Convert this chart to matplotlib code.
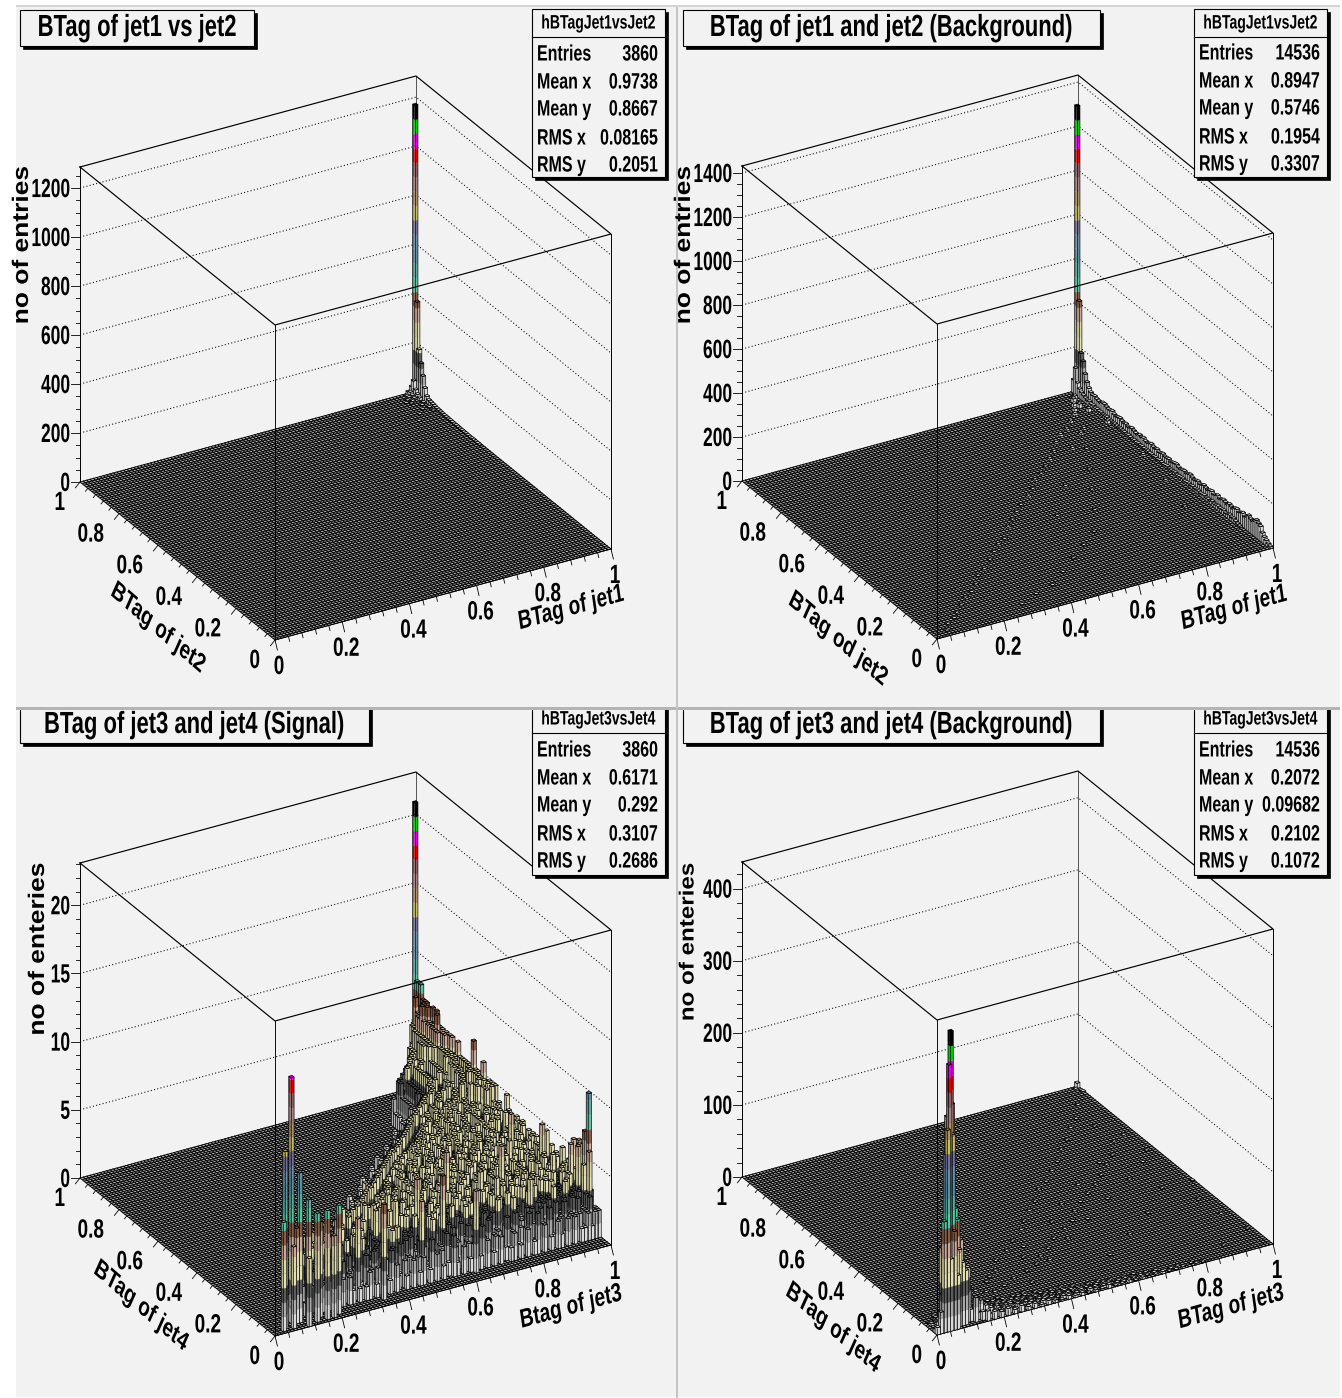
import numpy as np
import matplotlib
matplotlib.use("Agg")
import matplotlib.pyplot as plt
from matplotlib.collections import PolyCollection
from matplotlib.colors import to_rgba
from matplotlib.patches import Rectangle
from matplotlib.patheffects import AbstractPathEffect
from matplotlib.text import Text
from matplotlib.transforms import Affine2D, Bbox

W, H = 1342, 1398
N = 100
FONT = "Liberation Sans"

# ---------- data (bin index 0..99) ----------
TITLES = ["BTag of jet1 vs jet2", "BTag of jet1 and jet2 (Background)",
          "BTag of jet3 and jet4 (Signal)", "BTag of jet3 and jet4 (Background)"]
HIST_NAMES = ["hBTagJet1vsJet2", "hBTagJet1vsJet2", "hBTagJet3vsJet4", "hBTagJet3vsJet4"]
STAT_LABELS = ["Entries", "Mean x", "Mean y", "RMS x", "RMS y"]
STATS = [["3860", "0.9738", "0.8667", "0.08165", "0.2051"],
         ["14536", "0.8947", "0.5746", "0.1954", "0.3307"],
         ["3860", "0.6171", "0.292", "0.3107", "0.2686"],
         ["14536", "0.2072", "0.09682", "0.2102", "0.1072"]]
XLABELS = ["BTag of jet1", "BTag of jet1", "Btag of jet3", "BTag of jet3"]
YLABELS = ["BTag of jet2", "BTag od jet2", "BTag of jet4", "BTag of jet4"]
ZLABELS = ["no of entries", "no of entries", "no of enteries", "no of enteries"]
ZMAX = [1286, 1432, 23.1, 437]
ZMAJOR = [200, 200, 5, 100]
ZMINOR = [50, 50, 1, 20]
XY_TICKS = [0, 0.2, 0.4, 0.6, 0.8, 1]

# heights of the column ix=99 from iy=99 downward
P1_EDGE = [1175, 378, 190, 140, 95, 52, 25, 16, 14, 12, 10, 8, 8, 7, 6, 5, 5, 4, 4, 3, 3, 3, 3, 2, 2, 2, 2, 1, 1, 1, 2, 1, 1, 1]
P1_IX = [98, 98, 98, 98, 98, 97, 97, 97, 97, 96, 96, 96, 95, 95, 94, 98, 98, 98, 97, 96, 94, 92]
P1_IY = [99, 98, 97, 96, 95, 99, 98, 97, 96, 98, 97, 95, 96, 94, 95, 93, 90, 88, 92, 90, 88, 85]
P1_V = [30, 60, 30, 18, 10, 12, 18, 10, 6, 5, 6, 4, 3, 3, 2, 4, 3, 2, 3, 2, 2, 1]

P2_EDGE = [1300, 420, 190, 160, 110, 80, 60, 48, 42, 45, 40, 38, 36, 44, 45, 40, 36, 38, 42, 34, 30, 35, 38, 33,
           30, 34, 28, 30, 36, 32, 28, 26, 34, 30, 35, 28, 26, 30, 36, 30, 28, 33, 26, 30, 34, 28, 30, 32, 26, 30,
           34, 36, 30, 28, 33, 35, 30, 36, 40, 34, 30, 34, 38, 32, 36, 42, 38, 34, 40, 44, 36, 40, 46, 38, 42, 48,
           44, 40, 50, 46, 42, 52, 56, 48, 54, 60, 50, 56, 70, 62, 58, 66, 78, 70, 64, 42, 30, 22, 14, 8]
P2_EDGE2 = [60, 120, 60, 40, 30, 24, 20, 14, 18, 12, 14, 10, 12, 9, 11, 8, 10, 12, 8, 9, 7, 10, 8, 6, 9, 7, 8, 6,
            9, 7, 5, 8, 6, 7, 5, 8, 6, 7, 9, 6, 7, 5, 8, 6, 9, 7, 6, 8, 10, 7, 9, 8, 11, 7, 9, 10, 12, 8, 10, 11,
            9, 13, 10, 12, 14, 9, 12, 15, 11, 13, 10, 16, 12, 14, 17, 13, 15, 18, 12, 16, 20, 14, 17, 12, 8, 6]
P2_IX = [4, 6, 9, 11, 14, 17, 20, 23, 26, 29, 33, 36, 39, 42, 46, 49, 52, 55, 59, 62, 65, 68, 71, 74, 77, 80, 83, 86, 89,
         92, 93, 94, 95, 96, 90, 85, 80, 75, 70, 64, 58, 52, 46, 40, 34, 28, 60, 70, 82, 88, 91, 94, 96, 97, 96, 95]
P2_IY = [2, 5, 7, 9, 12, 15, 17, 20, 24, 26, 30, 33, 36, 38, 43, 46, 49, 52, 55, 58, 62, 64, 67, 70, 73, 77, 80, 82, 85,
         88, 90, 92, 94, 95, 80, 70, 60, 50, 40, 30, 25, 20, 15, 10, 8, 5, 42, 55, 72, 78, 30, 45, 60, 80, 88, 91]
P2_V = [4, 5, 4, 6, 5, 7, 5, 6, 4, 7, 5, 6, 7, 5, 8, 6, 7, 5, 9, 6, 8, 7, 6, 9, 7, 8, 10, 9, 11,
        12, 14, 18, 22, 24, 8, 6, 5, 6, 5, 4, 5, 4, 3, 4, 3, 3, 6, 7, 9, 10, 7, 8, 9, 14, 16, 20]

P4_IX = [5, 4, 6, 4, 3, 5, 3, 6, 7, 2, 5, 8, 7, 9, 10, 2, 4, 14, 6, 1, 8, 0, 11, 12, 7, 8, 9, 3, 1, 10, 99, 13, 15, 6, 0]
P4_IY = [2, 1, 3, 2, 0, 1, 1, 4, 2, 0, 0, 2, 1, 1, 2, 1, 0, 2, 0, 0, 3, 0, 3, 1, 3, 1, 3, 3, 1, 3, 99, 3, 1, 5, 1]
P4_V = [410, 367, 306, 293, 280, 269, 244, 185, 147, 154, 137, 117, 107, 76, 76, 51, 100, 26, 75, 30, 90, 10, 42, 34,
        160, 88, 58, 110, 14, 46, 7, 24, 20, 50, 6]
# low tail of P4: one row per iy, starting at ix=0, in counts (base 36)
P4_TAIL = [
    "0000000000 00000e0b08 0a06090507 0306040205 0304010302 0501020401 0300020301 0102000201",
    "0000000000 00g0c07090 5080403060 2050301040 2030104020 3010201002 0301020010 1020001",
    "0000000000 0h0a080c05 0604070305 0204030120 4010301020 1030010201 0102001",
    "0000000000 c090804060 3070203040 1030201030 2010201001 0201000100 1",
    "0030a00000 a060805030 6030402020 3010201010 2010100100 1",
    "0306050700 c060504050 3020301020 1020010100 1001",
    "0102040305 0504030401 0302010201 0010100100 1",
    "0001020302 0402030201 0020101020 1001",
    "0000102010 2030102010 0200100100 1",
    "0000100201 0020100100 1001",
]
# scattered small counts of P4 higher up
P4_IX2 = [20, 25, 30, 33, 38, 42, 47, 50, 54, 58, 62, 66, 70, 74, 78, 82, 86, 90, 94, 35, 45, 55, 65, 75, 85, 60, 70, 80, 90, 96, 98, 97, 96, 92, 88,
          24, 28, 32, 37, 41, 44, 48, 52, 57, 61, 64, 68, 72, 76, 80, 84, 88, 92, 27, 43, 63, 83, 22, 40, 56, 72, 93, 99, 99, 99, 98, 95]
P4_IY2 = [15, 18, 22, 27, 30, 34, 38, 42, 46, 50, 55, 58, 62, 66, 71, 75, 80, 84, 90, 12, 20, 28, 35, 42, 48, 15, 22, 30, 40, 20, 10, 60, 70, 78, 5,
          12, 14, 16, 18, 20, 23, 26, 30, 33, 36, 40, 44, 47, 50, 54, 58, 62, 68, 20, 30, 45, 60, 13, 25, 38, 52, 55, 96, 97, 40, 98, 30]
P4_V2 = [2, 1, 2, 1, 2, 1, 2, 1, 2, 1, 2, 1, 2, 1, 2, 1, 2, 1, 2, 1, 2, 2, 1, 1, 2, 1, 2, 1, 1, 2, 1, 1, 2, 1, 1,
         2, 1, 2, 1, 1, 2, 1, 1, 2, 1, 2, 1, 1, 2, 1, 2, 1, 2, 1, 1, 2, 1, 2, 1, 1, 2, 1, 2, 1, 1, 2, 1]

# P3: one row per iy, last character is ix=99, in counts
P3_ROWS = [
    "0201302010 2012001203 0102021010 1201030102 0010201201 0201003102 0120102010 2001201020 1302010210 2020112122",
    "2012031020 1002301201 0310200210 1202010301 0201021003 1020102001 2010301020 0102010230 1020310201 212212312",
    "3103220130 2013002102 1030201003 2010201301 0020130102 0103201002 1030210201 0301020102 1300201230 21312212",
    "0302120301 0302010420 3010203102 0301002103 0201030120 0230102013 0201030020 1203010230 1202031212 3212321",
    "4302130201 4020310024 0103020401 0310204010 3002301040 2010320102 0401030210 2040103020 1302402313 212323",
    "3204012303 0130402103 0240102030 1302010402 0301020130 4020103201 0302010402 1030204013 0231302423 23232",
    "2301420301 0402010330 2010403020 1030420103 0201304010 2030102403 0102030401 0230104021 3032312423 2323",
    "3201304021 0302401031 0204103002 3010402010 3020103401 0302010240 1030201304 0102302413 2342323132 413",
    "1302041030 2405010320 1032040103 0240102030 1403020102 3040130201 0230401030 2014023132 4232313432 32",
    "2040301203 0102403010 2304010250 1030201403 0102304010 2030410203 0140230102 4031323423 2313243232",
    "1302041020 3040120301 0420301025 0103040201 3001024030 1203040102 3014023042 3132423142 323423243",
    "2013020401 0320130402 0130203040 1025030102 0403010203 1402030104 0201342313 2423143232 42323433",
    "1020304010 2031040203 0104025030 2010304120 3014020310 4020130403 1242313423 2314323242 3143243",
    "0201302040 1030204010 2305010240 3010201403 0120304010 2403013204 2313423242 3134232423 324323",
    "1020103040 2010305020 1040302010 3040201032 0104020314 0234231324 2314323142 4232342323 23412",
    "0102010304 0102403010 2040130205 0103020401 3020130423 2314232423 1423242313 4232323413 2324",
    "1010203010 4020130401 0302014030 1024010342 3132423142 3232342323 4231432424 3232332143 322",
    "0102010301 0203040102 0301402010 3024013242 3142323132 4232423134 2323423242 3134323422 32",
    "0010102010 3020104030 1240301024 0313242323 1423232414 2323142342 3142323432 3243223343 3",
    "0101002010 2030102401 0302410342 3132423142 3234232313 4232423142 3423234323 4223432332",
]
P3_ROWS += [
    "0010010201 0301020401 3020403142 3242313423 2413232342 3142323413 2423134232 32432243",
    "0100010102 0103010240 1032403131 4232423142 3132342324 1323423142 3134232342 3243322",
    "0010001010 2010301402 0314232142 3231423242 3132413242 3123423142 3234231324 2342323",
    "0000100102 0103020140 2313423142 3242313423 2314232423 1324231432 4232331423 243232",
    "0010000102 0102013040 2313241342 3214232423 1423243132 4231423242 3134223242 33224",
    "0000100010 2010302041 3203142323 4132423142 3234231324 2314232423 4223134232 4223",
    "0000001010 2001032041 2313423213 4232314232 4231423132 4232342313 4232431324 232",
    "0010000100 1020103024 1320413242 3142323132 4232413242 3123423142 3243223342 32",
    "0000010001 0201030240 1324132423 1342323142 3242313423 2142323142 3323423122 3",
    "0000000101 0010203014 0231324213 4232342313 2423142324 1323423134 2323242234",
    "0001000010 1020130420 3132413242 3123423142 3234231324 2314232342 3134223243",
    "0000001000 1020103142 0313242314 2323413242 3123423142 3234232134 2323423",
    "0000000101 0010203014 2313242132 4231423423 1324231423 2413242342 3123243",
    "0000100001 0102013024 0314231342 3212423142 3324231423 2341322432 343233",
    "0000000010 1002013042 3103142324 1323423142 3132423423 1423242342 13243",
    "0000010000 1020103024 1324031423 2142323413 2342313242 3142323424 2313",
    "0000000100 0102010324 0314232314 2324132423 1423242313 4232342243 232",
    "0000000001 0010201304 2313420314 2323142342 3214232423 1342324223 43",
    "0000000000 1010203014 2324031423 1423242313 4232314232 4231342234 3",
    "0000100000 0102013024 1323403142 3214232423 1342314232 4223134224",
]
P3_ROWS += [
    "0000000010 0102010304 2313240314 2323142342 3132423142 322343243",
    "0000000000 1010203012 4231324031 4232142342 3142323413 22343223",
    "0000000100 0010201304 1323142403 1423214234 2314232423 2134324",
    "0000000001 0102010320 4132314240 3142321423 4231423242 433223",
    "0000000000 1001020130 4231324130 4142324123 4232142343 23243",
    "0000010000 0102010230 4132314240 3142321423 4231423234 2243",
    "0000000010 0010203104 2313241403 2142342314 2324223432 334",
    "0000000000 0102010320 4231324103 4232142342 3142343224 32",
    "0000000100 1001020130 4213241304 2314232142 3423132443 3",
    "0000000000 0102010302 4132314204 1342321423 4231424322",
    "0000000001 0010203102 4213241304 2314232142 342243243",
    "0000000000 1001020130 4231324103 4232142342 32343224",
    "0000001000 0102010302 4132314204 1342321424 3235342",
    "0000000000 0010201320 4213241304 2314232342 432354",
    "0000000010 0102013024 1324130423 1423214343 25435",
    "0000000000 1001020304 2132410342 3142342325 4353",
    "0000000100 0010203102 4132314204 2314243253 425",
    "0000000000 0102010320 4213241032 4232435342 54",
    "0000000001 0010201304 2132413024 2435243254 3",
    "0000000000 1001020130 4231324103 2435324356",
]
P3_ROWS += [
    "0000001000 0102010302 4132410324 25343254",
    "0000000000 0010203104 2132413024 3524354",
    "0000000010 0102013024 1324103243 532455",
    "0000000000 1001020304 2134103243 52545",
    "0000000100 0010201302 4132403254 3255",
    "0000000000 0102010320 4132043253 454",
    "0000000001 0010203102 4130324354 25",
    "0000000000 1002013024 1320435243 5",
    "0000000010 0102013042 1304325345",
    "0000000000 0010203142 031352435",
    "0000000100 0102013024 13034545",
    "0000000000 1002031420 3243545",
    "0000000001 0203014230 342556",
    "0000000010 0203142034 25345",
    "0000000102 0314203243 554",
    "0000000203 1420324355 6",
    "0000102031 4203243556",
    "0001020314 203243565",
    "0010203142 03243566",
    "0203041324 0345655",
    "0302413243 54656",
    "0302432454 5676",
    "0203142545 656",
    "0304325455 67",
    "0204324565 6",
    "0304235567",
    "032425676",
    "02435766",
    "0425677",
    "035667",
    "04567",
    "0568",
    "578",
    "58",
]
P3_PEAK = [21]
P3_IX = [7, 4, 9, 11, 13, 16, 20, 5, 8, 3, 12, 15, 18, 6, 10, 99, 99, 99, 99, 99, 98, 97, 96, 98, 99, 97, 98, 34, 47, 55, 62, 74, 80, 87, 66, 52, 28, 41, 23, 94, 91, 93, 95, 81, 72, 97, 98]
P3_IY = [4, 2, 3, 2, 1, 1, 2, 4, 3, 1, 4, 3, 1, 1, 0, 10, 15, 69, 58, 52, 16, 9, 14, 8, 12, 20, 30, 3, 6, 9, 4, 14, 22, 30, 26, 17, 6, 12, 8, 44, 36, 18, 27, 9, 19, 12, 13]
P3_V = [18, 13, 11, 9, 8, 8, 8, 9, 7, 8, 6, 7, 6, 6, 5, 10, 6, 7, 5, 5, 6, 5, 6, 6, 7, 5, 5, 7, 6, 7, 6, 5, 6, 5, 6, 6, 6, 5, 6, 5, 6, 5, 6, 5, 5, 6, 6]

BAND_COLORS = ["#dadada", "#a8a8a8", "#5c5c5c", "#e4e0b4", "#dcd6a8", "#c8a898", "#8a5c44", "#58c4a0",
               "#5aa8a0", "#5a90a0", "#6a90a8", "#72709a", "#c6bc62", "#b09060", "#a88080", "#8f5c64", "#e00000",
               "#e000e0", "#00d000", "#000000"]
BG = "#f2f2f2"

# ---------- layout (pixels) ----------
ORIGINS = [(275, 640), (937, 639), (275, 1336), (937, 1335)]
EX = np.array([336.0, -91.0])
EY = np.array([-195.0, -158.0])
ZH = 315.0
PADS = [(16, 7, 676, 707), (678, 7, 1340, 707), (16, 710, 676, 1397), (678, 710, 1340, 1397)]
TITLE_BOX = [(20, 10, 254, 46), (683, 10, 1100, 46), (20, 700, 369, 743), (683, 700, 1100, 743)]
STAT_BOX = [(532, 9, 665, 177), (1194, 9, 1327, 177), (532, 700, 665, 875), (1194, 700, 1327, 875)]
HEAD_Y = [24, 24, 720, 720]
HEAD_LINE = [37, 37, 733, 733]
ROW_Y = [[55, 83, 110, 139, 166], [54, 82, 109, 138, 165], [751, 779, 806, 835, 862], [751, 779, 806, 835, 862]]
TITLE_XY = [(137, 28), (891, 28), (194, 725), (891, 725)]
XLAB_XY = [(571, 608), (1234, 608), (571, 1307), (1231, 1307)]
YLAB_XY = [(158, 628), (838, 639), (141, 1306), (833, 1328)]
ZLAB_XY = [(22, 245), (684, 245), (38, 949), (688, 942)]
ZLAB_SIZE = [19, 19, 19, 17.4]
SQUEEZE = 0.72


class Squeeze(AbstractPathEffect):
    """Narrows a text horizontally around its anchor, as in the stretched original."""

    def __init__(self, txt, sx):
        super().__init__()
        self.txt, self.sx = txt, sx

    def draw_path(self, renderer, gc, tpath, affine, rgbFace=None):
        ax_, _ = self.txt.get_transform().transform(self.txt.get_position())
        extra = Affine2D().translate(-ax_, 0).scale(self.sx, 1).translate(ax_, 0)
        renderer.draw_path(gc, tpath, affine + extra, rgbFace)


class NarrowText(Text):
    def __init__(self, *a, sx=SQUEEZE, **k):
        super().__init__(*a, **k)
        self._sx = sx
        self.set_path_effects([Squeeze(self, sx)])

    def get_window_extent(self, renderer=None, dpi=None):
        b = super().get_window_extent(renderer, dpi)
        ax_, _ = self.get_transform().transform(self.get_position())
        return Bbox([[ax_ + (b.x0 - ax_) * self._sx, b.y0], [ax_ + (b.x1 - ax_) * self._sx, b.y1]])


def put(ax, x, y, s, size, sx=SQUEEZE, rot=0, ha="center", z=6, rm="default"):
    t = NarrowText(x, y, s, sx=sx, fontsize=size, family=FONT, weight="bold", rotation=rot, ha=ha, va="center",
                   rotation_mode=rm, zorder=z, color="k")
    t.set_transform(ax.transData)
    t.set_clip_on(False)
    ax.add_artist(t)
    return t


def build_p1():
    d = {(99, 99 - i): v for i, v in enumerate(P1_EDGE)}
    d.update({(a, b): v for a, b, v in zip(P1_IX, P1_IY, P1_V)})
    return d


def build_p2():
    d = {(a, b): v for a, b, v in zip(P2_IX, P2_IY, P2_V)}
    d.update({(98, 99 - i): v for i, v in enumerate(P2_EDGE2)})
    d.update({(99, 99 - i): v for i, v in enumerate(P2_EDGE)})
    return d


def build_p3():
    d = {}
    nrows = len(P3_ROWS)
    for i, row in enumerate(P3_ROWS):
        iy = i + (99 - nrows)
        chars = row.replace(" ", "")
        for k, c in enumerate(chars):
            ix = 99 - (len(chars) - 1 - k)
            if iy <= ix < N and c != "0" and iy >= 0:
                d[(ix, iy)] = int(c)
    d.update({(a, b): v for a, b, v in zip(P3_IX, P3_IY, P3_V)})
    d[(99, 99)] = P3_PEAK[0]
    return d


def build_p4():
    d = {}
    for iy, row in enumerate(P4_TAIL):
        for ix, c in enumerate(row.replace(" ", "")):
            if ix < N and c != "0":
                d[(ix, iy)] = int(c, 36)
    d.update({(a, b): v for a, b, v in zip(P4_IX2, P4_IY2, P4_V2)})
    d.update({(a, b): v for a, b, v in zip(P4_IX, P4_IY, P4_V)})
    return d


fig = plt.figure(figsize=(W / 100, H / 100), dpi=100, facecolor="white")


def px_axes(x0, y0, x1, y1, face):
    ax = fig.add_axes([x0 / W, 1 - y1 / H, (x1 - x0) / W, (y1 - y0) / H])
    ax.set_xlim(x0, x1)
    ax.set_ylim(y1, y0)
    ax.set_facecolor(face)
    ax.set_xticks([])
    ax.set_yticks([])
    for s in ax.spines.values():
        s.set_visible(False)
    return ax


base = px_axes(0, 0, W, H, "white")
base.add_patch(Rectangle((16, 5), W - 18, 2, fc="#d4d4d4", ec="none"))
base.add_patch(Rectangle((16, 707), W - 18, 3, fc="#b4b4b4", ec="none"))
base.add_patch(Rectangle((676, 7), 2, H - 7, fc="#c4c4c4", ec="none"))

LEFT_SHADE = 0.82


def shade(col, f):
    r, g, b, a = to_rgba(col)
    return (r * f, g * f, b * f, a)


def draw_panel(p, bars):
    ax = px_axes(*PADS[p], BG)
    ox, oy = ORIGINS[p]
    zs = ZH / ZMAX[p]

    def pj(x, y, z=0.0):
        return (ox + EX[0] * x + EY[0] * y, oy + EX[1] * x + EY[1] * y - zs * z)

    ztop = ZMAX[p]
    zv = np.arange(ZMAJOR[p], ztop, ZMAJOR[p])
    for z in np.r_[0, zv]:
        pts = [pj(0, 1, z), pj(1, 1, z), pj(1, 0, z)]
        ax.plot(*zip(*pts), color="k", lw=0.75, ls=(0, (1, 2.2)), zorder=1)
    ax.plot(*zip(pj(1, 1, 0), pj(1, 1, ztop)), color="#555555", lw=0.7, zorder=1)
    ax.plot(*zip(pj(0, 1, 0), pj(0, 1, ztop)), color="k", lw=0.7, zorder=1)
    ax.plot(*zip(pj(1, 0, 0), pj(1, 0, ztop)), color="k", lw=0.7, zorder=1)

    # floor
    ed = np.linspace(0, 1, N + 1)
    xx0, yy0 = np.meshgrid(ed[:-1], ed[:-1])
    xx1, yy1 = xx0 + 1 / N, yy0 + 1 / N
    cs = [(xx0, yy0), (xx1, yy0), (xx1, yy1), (xx0, yy1)]
    fl = np.stack([np.stack(pj(a.ravel(), b.ravel()), axis=-1) for a, b in cs], axis=1)
    ax.add_collection(PolyCollection(fl, facecolors="#b8b8b8", edgecolors="k", linewidths=0.62, zorder=2))
    ax.plot(*zip(pj(0, 0, 0), pj(1, 0, 0)), color="k", lw=0.6, zorder=2.1)

    # bars, back to front
    peak = max(bars.values())
    step = peak / 20.0
    verts, fcs, ecs, lws = [], [], [], []
    none = (0, 0, 0, 0)
    black = (0, 0, 0, 1)
    for (ix, iy) in sorted(bars, key=lambda k: (-(k[0] + k[1]), -k[0])):
        h = bars[(ix, iy)]
        x0, x1, y0, y1 = ix / N, (ix + 1) / N, iy / N, (iy + 1) / N
        nb = int(np.ceil(h / step - 1e-9))
        for b in range(nb):
            za, zb = b * step, min((b + 1) * step, h)
            col = BAND_COLORS[min(b, len(BAND_COLORS) - 1)]
            verts.append([pj(x0, y0, za), pj(x1, y0, za), pj(x1, y0, zb), pj(x0, y0, zb)])
            fcs.append(to_rgba(col)); ecs.append(none); lws.append(0)
            verts.append([pj(x0, y0, za), pj(x0, y1, za), pj(x0, y1, zb), pj(x0, y0, zb)])
            fcs.append(shade(col, LEFT_SHADE)); ecs.append(none); lws.append(0)
        top_col = BAND_COLORS[min(nb - 1, len(BAND_COLORS) - 1)]
        verts.append([pj(x0, y0, h), pj(x1, y0, h), pj(x1, y1, h), pj(x0, y1, h)])
        fcs.append(to_rgba(top_col)); ecs.append(black); lws.append(0.5)
        verts.append([pj(x1, y0, 0), pj(x0, y0, 0), pj(x0, y1, 0), pj(x0, y1, h), pj(x0, y0, h), pj(x1, y0, h)])
        fcs.append(none); ecs.append(black); lws.append(0.45)
        verts.append([pj(x0, y0, 0), pj(x0, y0, h)])
        fcs.append(none); ecs.append(black); lws.append(0.45)
    ax.add_collection(PolyCollection(verts, facecolors=fcs, edgecolors=ecs, linewidths=lws, zorder=3))

    box = [pj(0, 1, ztop), pj(1, 1, ztop), pj(1, 0, ztop), pj(0, 0, ztop), pj(0, 1, ztop)]
    ax.plot(*zip(*box), color="k", lw=0.85, zorder=4)
    ax.plot(*zip(pj(0, 0, 0), pj(0, 0, ztop)), color="k", lw=0.65, zorder=2.5)

    for i in range(0, 26):
        t = i / 25
        L = 1.0 if i % 5 == 0 else 0.5
        a = pj(t, 0)
        ax.plot([a[0], a[0] + 2.4 * L], [a[1], a[1] + 10 * L], color="k", lw=0.6, zorder=2, clip_on=False)
        b = pj(0, t)
        ax.plot([b[0], b[0] - 4.6 * L], [b[1], b[1] + 5.8 * L], color="k", lw=0.6, zorder=2, clip_on=False)
    for t in XY_TICKS:
        lab = f"{t:g}"
        a = pj(t, 0)
        put(ax, a[0] + 4, a[1] + 27, lab, 19)
        b = pj(0, t)
        put(ax, b[0] - 15, b[1] + 21, lab, 19, ha="right")
    lx, _ = pj(0, 1)
    for z in np.arange(0, ztop + 1e-9, ZMINOR[p]):
        _, y = pj(0, 1, z)
        m = abs(z / ZMAJOR[p] - round(z / ZMAJOR[p])) < 1e-6
        ax.plot([lx - (9 if m else 4.5), lx], [y, y], color="k", lw=0.6, zorder=2)
        if m:
            put(ax, lx - 10, y + 2, f"{z:g}", 19, sx=0.66, ha="right")

    put(ax, *XLAB_XY[p], XLABELS[p], 19, rot=11.3, rm="anchor")
    put(ax, *YLAB_XY[p], YLABELS[p], 19, rot=-32, rm="anchor")
    put(ax, *ZLAB_XY[p], ZLABELS[p], ZLAB_SIZE[p], rot=90, sx=0.85)

    x0, y0, x1, y1 = TITLE_BOX[p]
    ax.add_patch(Rectangle((x0 + 3, y0 + 3), x1 - x0, y1 - y0, fc="k", ec="k", lw=0.5, zorder=5))
    ax.add_patch(Rectangle((x0, y0), x1 - x0, y1 - y0, fc=BG, ec="k", lw=0.8, zorder=5.1))
    put(ax, *TITLE_XY[p], TITLES[p], 22)

    x0, y0, x1, y1 = STAT_BOX[p]
    ax.add_patch(Rectangle((x0 + 3, y0 + 3), x1 - x0, y1 - y0, fc="k", ec="k", lw=0.5, zorder=5))
    ax.add_patch(Rectangle((x0, y0), x1 - x0, y1 - y0, fc=BG, ec="k", lw=0.8, zorder=5.1))
    ax.plot([x0, x1], [HEAD_LINE[p]] * 2, color="k", lw=0.8, zorder=5.2)
    put(ax, (x0 + x1) / 2, HEAD_Y[p], HIST_NAMES[p], 14)
    for lab, val, y in zip(STAT_LABELS, STATS[p], ROW_Y[p]):
        put(ax, x0 + 5, y, lab, 16, ha="left")
        put(ax, x1 - 7, y, val, 16, ha="right")


for p, bars in enumerate([build_p1(), build_p2(), build_p3(), build_p4()]):
    draw_panel(p, bars)

fig.savefig("out.png", dpi=100, facecolor="white")
